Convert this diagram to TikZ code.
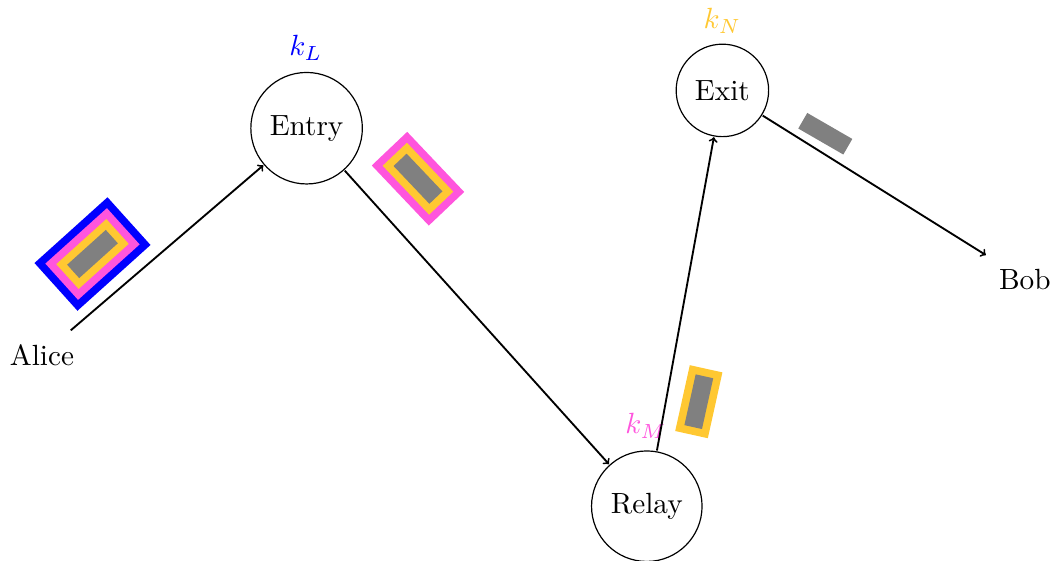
\documentclass[tikz,border=0pt]{standalone}
\usetikzlibrary{calc}
\definecolor{kblue}{RGB}{0,0,255}
\definecolor{kmag}{RGB}{255,85,221}
\definecolor{kgold}{RGB}{255,200,50}
\definecolor{kgray}{RGB}{128,128,128}
\tikzset{
  bigtext/.style={scale=2.2, transform shape},
  relaynode/.style={bigtext, circle, draw, line width=0.9pt, inner sep=4.4pt},
  partynode/.style={bigtext, inner sep=4.6pt},
  keylabel/.style={bigtext, inner sep=0pt},
  link/.style={->, line width=1.4pt},
}
\begin{document}
\begin{tikzpicture}
\useasboundingbox (-1.111,-5.423) rectangle (26.852,9.392);
\node[partynode] (alice) at (0,0) {Alice};
\node[relaynode] (entry) at (7,6) {Entry};
\node[relaynode] (relay) at (16,-4) {Relay};
\node[relaynode] (exit) at (18,7) {Exit};
\node[partynode] (bob) at (26,2) {Bob};
\node[keylabel, text=kblue] (kL) at (6.98,8.13) {$k_L$};
\node[keylabel, text=kmag] (kM) at (15.98,-1.87) {$k_M$};
\node[keylabel, text=kgold] (kN) at (18.0,8.84) {$k_N$};
\draw[link] (alice) -- (entry);
\draw[link] (entry) -- (relay);
\draw[link] (relay) -- (exit);
\draw[link] (exit) -- (bob);
% packet 1
\begin{scope}[shift={(1.336,2.672)}, rotate=42]
  \fill[kblue] (-1.300,-0.850) rectangle (1.300,0.850);
  \fill[kmag] (-1.096,-0.646) rectangle (1.096,0.646);
  \fill[kgold] (-0.892,-0.442) rectangle (0.892,0.442);
  \fill[kgray] (-0.688,-0.238) rectangle (0.688,0.238);
\end{scope}
% packet 2
\begin{scope}[shift={(9.947,4.664)}, rotate=-46.5]
  \fill[kmag] (-1.096,-0.646) rectangle (1.096,0.646);
  \fill[kgold] (-0.892,-0.442) rectangle (0.892,0.442);
  \fill[kgray] (-0.688,-0.238) rectangle (0.688,0.238);
\end{scope}
% packet 3
\begin{scope}[shift={(17.376,-1.235)}, rotate=77.5]
  \fill[kgold] (-0.892,-0.442) rectangle (0.892,0.442);
  \fill[kgray] (-0.688,-0.238) rectangle (0.688,0.238);
\end{scope}
% packet 4
\begin{scope}[shift={(20.722,5.854)}, rotate=-30]
  \fill[kgray] (-0.688,-0.238) rectangle (0.688,0.238);
\end{scope}
\end{tikzpicture}
\end{document}
